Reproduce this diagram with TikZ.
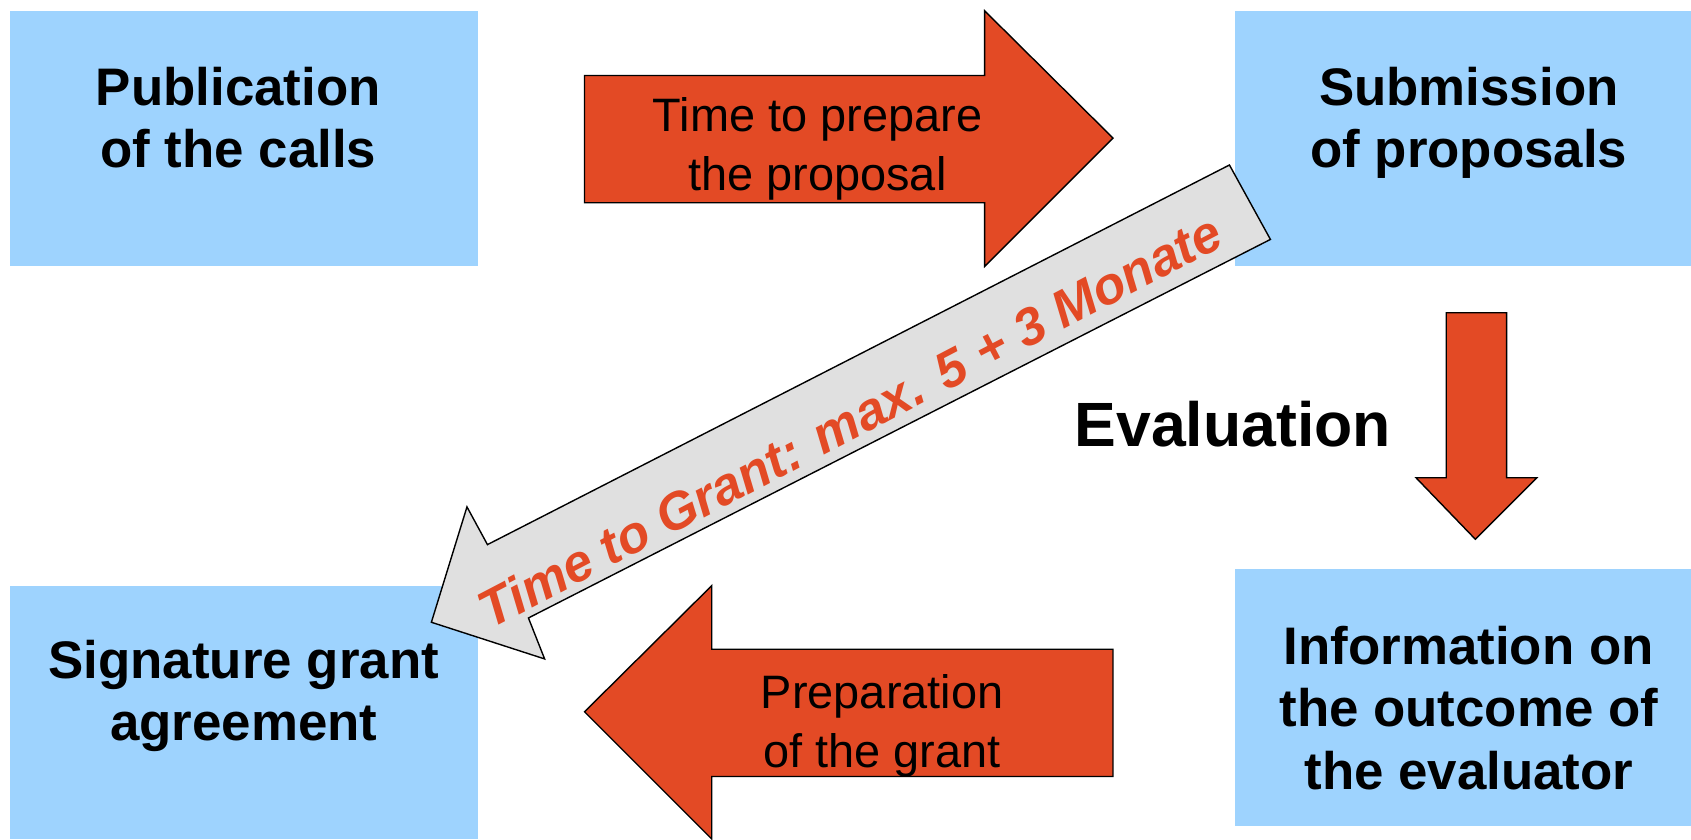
\documentclass[tikz,border=0pt]{standalone}
\usepackage{fontspec}
\setmainfont{Liberation Sans}
\definecolor{boxblue}{HTML}{9ED3FE}
\definecolor{arrred}{HTML}{E34A25}
\definecolor{arrgray}{HTML}{E0E0E0}
\begin{document}
\begin{tikzpicture}[x=1pt,y=-1pt,
  box/.style={fill=boxblue, draw=none, inner sep=0pt},
  boxtext/.style={font=\fontsize{49}{58}\selectfont\bfseries, align=center, inner sep=0pt, anchor=north},
  arrtext/.style={font=\fontsize{43.5}{55}\selectfont, align=center, inner sep=0pt, anchor=north},
  bigarrow/.style={fill=arrred, draw=black, line width=1.3pt, line join=miter},
  grayarrow/.style={fill=arrgray, draw=black, line width=1.3pt, line join=miter},
]
\useasboundingbox (0,0) rectangle (1568,778);
% boxes
\node[box, minimum width=434pt, minimum height=237pt] (pub) at (226,128.5) {};
\node[box, minimum width=423pt, minimum height=237pt] (sub) at (1356.5,128.5) {};
\node[box, minimum width=434pt, minimum height=235pt] (sig) at (226,660.5) {};
\node[box, minimum width=423pt, minimum height=238pt] (inf) at (1356.5,647) {};
\node[boxtext] (pubt) at (221,62) {Publication\\of the calls};
\node[boxtext] (subt) at (1362,62) {Submission\\of proposals};
\node[boxtext] (sigt) at (226,593) {Signature grant\\agreement};
\node[boxtext] (inft) at (1362,580) {Information on\\the outcome of\\the evaluator};
% right arrow
\draw[bigarrow] (542,70) -- (913,70) -- (913,10) -- (1032,128) -- (913,247) -- (913,188) -- (542,188) -- cycle;
\node[arrtext] (prep) at (758,90) {Time to prepare\\the proposal};
% down arrow
\draw[bigarrow] (1341,290) -- (1397,290) -- (1397,443) -- (1425,443) -- (1368,500) -- (1313,443) -- (1341,443) -- cycle;
\node[font=\fontsize{58}{58}\selectfont\bfseries, inner sep=0pt, anchor=north] (eval) at (1143,372) {Evaluation};
% left arrow
\draw[bigarrow] (1032,602) -- (660,602) -- (660,543) -- (542,660) -- (660,778) -- (660,720) -- (1032,720) -- cycle;
\node[arrtext] (grant) at (818,625) {Preparation\\of the grant};
% gray diagonal arrow
\draw[grayarrow] (1140,153) -- (452,505) -- (433,470) -- (400,577) -- (505,611) -- (490,573) -- (1178,222) -- cycle;
\node[font=\fontsize{48.5}{48.5}\selectfont\bfseries\itshape, text=arrred, inner sep=0pt, rotate=27.6] (ttg) at (788,390) {Time to Grant: max. 5 + 3 Monate};
\end{tikzpicture}
\end{document}
